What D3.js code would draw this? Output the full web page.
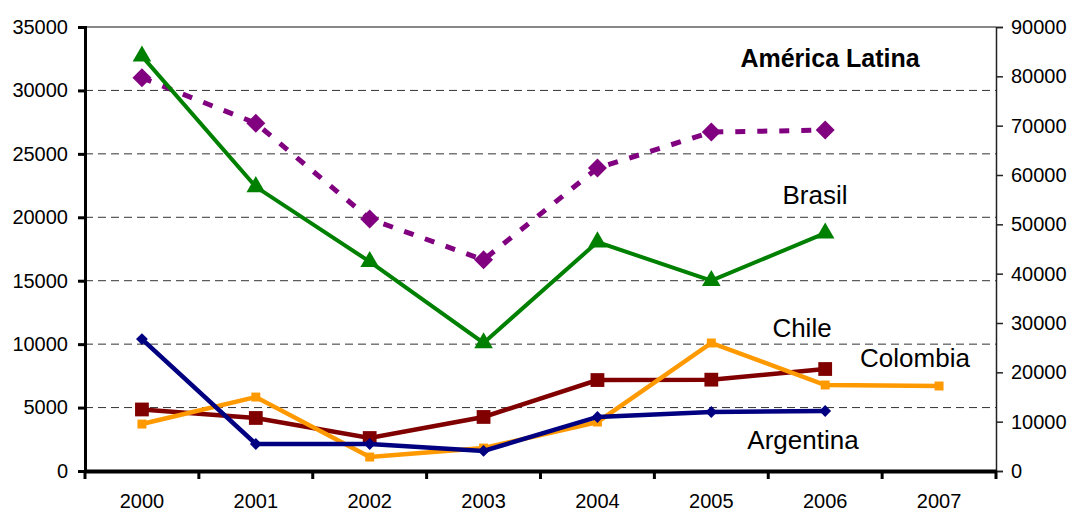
<!DOCTYPE html>
<html>
<head>
<meta charset="utf-8">
<script src="https://cdn.jsdelivr.net/npm/d3@7"></script>
<style>
  body { margin: 0; background: #fff; }
  text { font-family: "Liberation Sans", Arial, sans-serif; fill: #000; }
</style>
</head>
<body>
<script>
// categories and series (left axis unless noted)
const years = ['2000', '2001', '2002', '2003', '2004', '2005', '2006', '2007'];
const brasil = [32700, 22400, 16500, 10100, 18050, 15000, 18750, null];
const chile = [4850, 4180, 2600, 4260, 7170, 7200, 8040, null];
const colombia = [3700, 5830, 1100, 1810, 3860, 10090, 6780, 6700];
const argentina = [10400, 2130, 2130, 1580, 4260, 4650, 4730, null];
// right axis
const latina = [79700, 70500, 51100, 42800, 61400, 68700, 69100, null];

const leftTicks = [0, 5000, 10000, 15000, 20000, 25000, 30000, 35000];
const rightTicks = [0, 10000, 20000, 30000, 40000, 50000, 60000, 70000, 80000, 90000];

const W = 1073, H = 512;
const m = { left: 85, right: 996, top: 27, bottom: 471 };

const svg = d3.select('body').append('svg')
  .attr('width', W)
  .attr('height', H);

const x = d3.scaleBand().domain(years).range([m.left, m.right]);
const yL = d3.scaleLinear().domain([0, 35000]).range([m.bottom, m.top]);
const yR = d3.scaleLinear().domain([0, 90000]).range([m.bottom, m.top]);
const cx = d => x(d) + x.bandwidth() / 2;

// gridlines
svg.append('g')
  .selectAll('line')
  .data(leftTicks.filter(t => t > 0 && t < 35000))
  .enter().append('line')
  .attr('x1', m.left).attr('x2', m.right)
  .attr('y1', d => yL(d)).attr('y2', d => yL(d))
  .attr('stroke', '#333').attr('stroke-width', 1)
  .attr('stroke-dasharray', '8,5');

// top border
svg.append('line')
  .attr('x1', m.left).attr('x2', m.right)
  .attr('y1', m.top).attr('y2', m.top)
  .attr('stroke', '#888').attr('stroke-width', 2);

// left axis
const gL = svg.append('g')
  .attr('transform', `translate(${m.left},0)`)
  .call(d3.axisLeft(yL).tickValues(leftTicks).tickSize(7).tickPadding(10).tickFormat(d3.format('d')));
gL.select('.domain').attr('stroke', '#000').attr('stroke-width', 3);
gL.selectAll('.tick line').attr('stroke', '#000').attr('stroke-width', 3);
gL.selectAll('.tick text').style('font-size', '20px');

// right axis
const gR = svg.append('g')
  .attr('transform', `translate(${m.right},0)`)
  .call(d3.axisRight(yR).tickValues(rightTicks).tickSize(7).tickPadding(8).tickFormat(d3.format('d')));
gR.select('.domain').attr('stroke', '#222').attr('stroke-width', 1.5);
gR.selectAll('.tick line').attr('stroke', '#222').attr('stroke-width', 1.5);
gR.selectAll('.tick text').style('font-size', '20px');

// bottom axis
const gB = svg.append('g')
  .attr('transform', `translate(0,${m.bottom})`)
  .call(d3.axisBottom(x).tickSize(0).tickPadding(23));
gB.select('.domain').attr('stroke', '#000').attr('stroke-width', 4);
gB.selectAll('.tick text').style('font-size', '20px');
gB.selectAll('line.cat')
  .data(d3.range(years.length + 1))
  .enter().append('line')
  .attr('class', 'cat')
  .attr('x1', i => m.left + i * x.bandwidth())
  .attr('x2', i => m.left + i * x.bandwidth())
  .attr('y1', 0).attr('y2', 8)
  .attr('stroke', '#000').attr('stroke-width', 3);

function drawSeries(vals, scale, color, width, dash, shape, size, rot) {
  const pts = years.map((yr, i) => ({ yr, v: vals[i] })).filter(p => p.v != null);
  const line = d3.line().x(p => cx(p.yr)).y(p => scale(p.v));
  svg.append('path')
    .datum(pts)
    .attr('d', line)
    .attr('fill', 'none')
    .attr('stroke', color)
    .attr('stroke-width', width)
    .attr('stroke-dasharray', dash);
  svg.append('g').selectAll('path')
    .data(pts)
    .enter().append('path')
    .attr('transform', p => `translate(${cx(p.yr)},${scale(p.v)}) rotate(${rot || 0})`)
    .attr('d', d3.symbol().type(shape).size(size))
    .attr('fill', color);
}

drawSeries(latina, yR, '#800080', 5, '10,12', d3.symbolSquare, 180, 45);
drawSeries(brasil, yL, '#008000', 4, null, d3.symbolTriangle, 150);
drawSeries(chile, yL, '#800000', 4.5, null, d3.symbolSquare, 190);
drawSeries(colombia, yL, '#FF9900', 4.5, null, d3.symbolSquare, 80);
drawSeries(argentina, yL, '#000080', 4.5, null, d3.symbolSquare, 70, 45);

// labels
const labels = [
  { t: 'América Latina', x: 830, y: 67, bold: true },
  { t: 'Brasil', x: 815, y: 204 },
  { t: 'Chile', x: 802, y: 337 },
  { t: 'Colombia', x: 915, y: 367 },
  { t: 'Argentina', x: 803, y: 449 }
];
svg.append('g').selectAll('text')
  .data(labels)
  .enter().append('text')
  .attr('x', d => d.x).attr('y', d => d.y)
  .attr('text-anchor', 'middle')
  .style('font-size', d => d.bold ? '25px' : '26px')
  .style('font-weight', d => d.bold ? 'bold' : 'normal')
  .text(d => d.t);
</script>
</body>
</html>
